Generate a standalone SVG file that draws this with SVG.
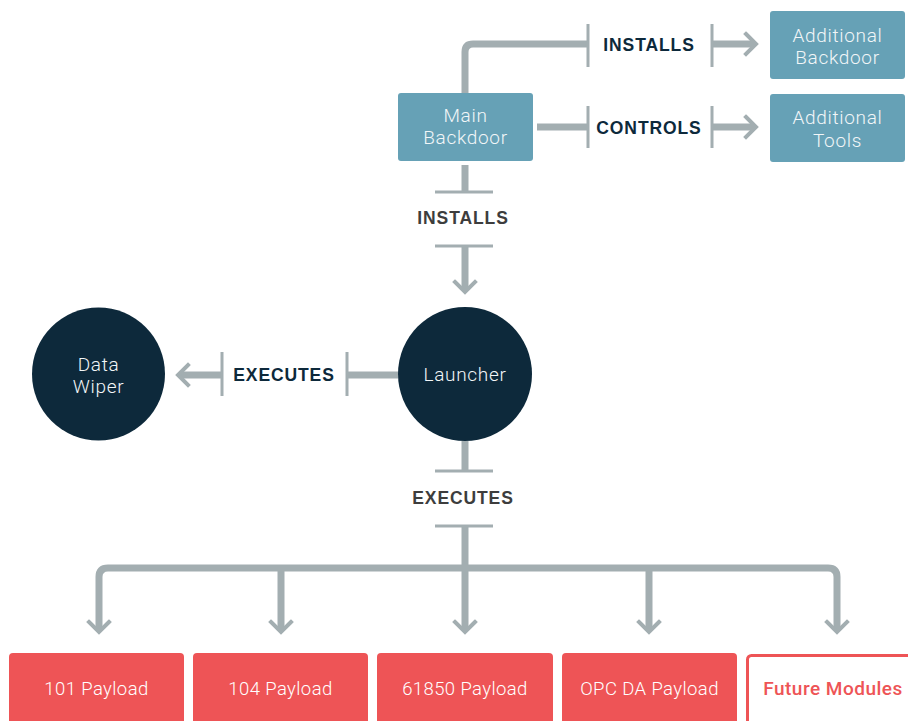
<svg xmlns="http://www.w3.org/2000/svg" width="908" height="721" viewBox="0 0 908 721">
<style>
.bg{fill:#ffffff}
.blue{fill:#66a1b6}
.navy{fill:#0d293b}
.red{fill:#ee5456}
.nt{font-family:Roboto,"Liberation Sans",sans-serif;font-weight:300;font-size:19px;fill:#f2f6f8;text-anchor:middle;letter-spacing:0.7px}
.rt{font-family:Roboto,"Liberation Sans",sans-serif;font-weight:300;font-size:18.5px;fill:#ffffff;text-anchor:middle;letter-spacing:0.4px}
.lbl{font-family:"Liberation Sans",Arial,sans-serif;font-weight:bold;font-size:17.5px;text-anchor:middle;letter-spacing:0.9px}
.dk{fill:#0d293b}
.gy{fill:#3d3d3d}
.ln{fill:none;stroke:#a3aeb1;stroke-width:7}
.tk{fill:none;stroke:#a3aeb1;stroke-width:3}
.ah{fill:none;stroke:#a3aeb1;stroke-width:4;stroke-linecap:square}
</style>
<rect class="bg" x="0" y="0" width="908" height="721"/>
<g id="connectors">
  <path class="ln" d="M465,93 V52 Q465,44 473,44 H588"/>
  <path class="tk" d="M588,24 V67 M712,24 V67"/>
  <path class="ln" d="M712,44 H754"/>
  <path class="ah" d="M746,34 L756,44 L746,54"/>
  <path class="ln" d="M537,127 H588"/>
  <path class="tk" d="M588,106 V148 M712,106 V148"/>
  <path class="ln" d="M712,127 H754"/>
  <path class="ah" d="M746,117 L756,127 L746,137"/>
  <path class="ln" d="M465,165 V192"/>
  <path class="tk" d="M435,192 H493 M435,246 H493"/>
  <path class="ln" d="M465,246 V290"/>
  <path class="ah" d="M455,282 L465,292 L475,282"/>
  <path class="ln" d="M398,375 H347"/>
  <path class="tk" d="M347,352 V396 M222,352 V396"/>
  <path class="ln" d="M222,375 H180"/>
  <path class="ah" d="M188,365 L178,375 L188,385"/>
  <path class="ln" d="M465,441 V471"/>
  <path class="tk" d="M435,471 H493 M435,526 H493"/>
  <path class="ln" d="M465,526 V568"/>
  <path class="ln" d="M99,630 V577 Q99,568 108,568 H828 Q837,568 837,577 V630"/>
  <path class="ln" d="M281,568 V630 M465,568 V630 M649,568 V630"/>
  <path class="ah" d="M89,622 L99,632 L109,622 M271,622 L281,632 L291,622 M455,622 L465,632 L475,622 M639,622 L649,632 L659,622 M827,622 L837,632 L847,622"/>
</g>
<g id="labels">
  <text class="lbl dk" x="649" y="51">INSTALLS</text>
  <text class="lbl dk" x="649" y="134">CONTROLS</text>
  <text class="lbl gy" x="463" y="224">INSTALLS</text>
  <text class="lbl dk" x="284" y="381">EXECUTES</text>
  <text class="lbl gy" x="463" y="504">EXECUTES</text>
</g>
<g id="main-backdoor">
  <rect class="blue" x="398" y="93" width="135" height="68" rx="3"/>
  <text class="nt" x="465.5" y="122">Main</text>
  <text class="nt" x="465.5" y="144">Backdoor</text>
</g>
<g id="additional-backdoor">
  <rect class="blue" x="770" y="11" width="135" height="68" rx="3"/>
  <text class="nt" x="837.5" y="42">Additional</text>
  <text class="nt" x="837.5" y="64">Backdoor</text>
</g>
<g id="additional-tools">
  <rect class="blue" x="770" y="94" width="135" height="68" rx="3"/>
  <text class="nt" x="837.5" y="124">Additional</text>
  <text class="nt" x="837.5" y="147">Tools</text>
</g>
<g id="launcher">
  <circle class="navy" cx="465" cy="374" r="67"/>
  <text class="nt" x="465" y="381">Launcher</text>
</g>
<g id="data-wiper">
  <circle class="navy" cx="98.5" cy="374" r="66.5"/>
  <text class="nt" x="98.5" y="371">Data</text>
  <text class="nt" x="98.5" y="393">Wiper</text>
</g>
<g id="payload-101">
  <rect class="red" x="9" y="653" width="175" height="80" rx="4"/>
  <text class="rt" x="96.5" y="695">101 Payload</text>
</g>
<g id="payload-104">
  <rect class="red" x="193" y="653" width="175" height="80" rx="4"/>
  <text class="rt" x="280.5" y="695">104 Payload</text>
</g>
<g id="payload-61850">
  <rect class="red" x="377" y="653" width="176" height="80" rx="4"/>
  <text class="rt" x="465" y="695">61850 Payload</text>
</g>
<g id="payload-opc">
  <rect class="red" x="562" y="653" width="175" height="80" rx="4"/>
  <text class="rt" x="649.5" y="695">OPC DA Payload</text>
</g>
<g id="future-modules">
  <rect x="747.5" y="655.5" width="175" height="80" rx="4" fill="#ffffff" stroke="#ee5456" stroke-width="3"/>
  <text class="rt" x="833" y="695" style="fill:#ee5456;font-weight:500;font-size:19px;letter-spacing:0.5px">Future Modules</text>
</g>
</svg>
